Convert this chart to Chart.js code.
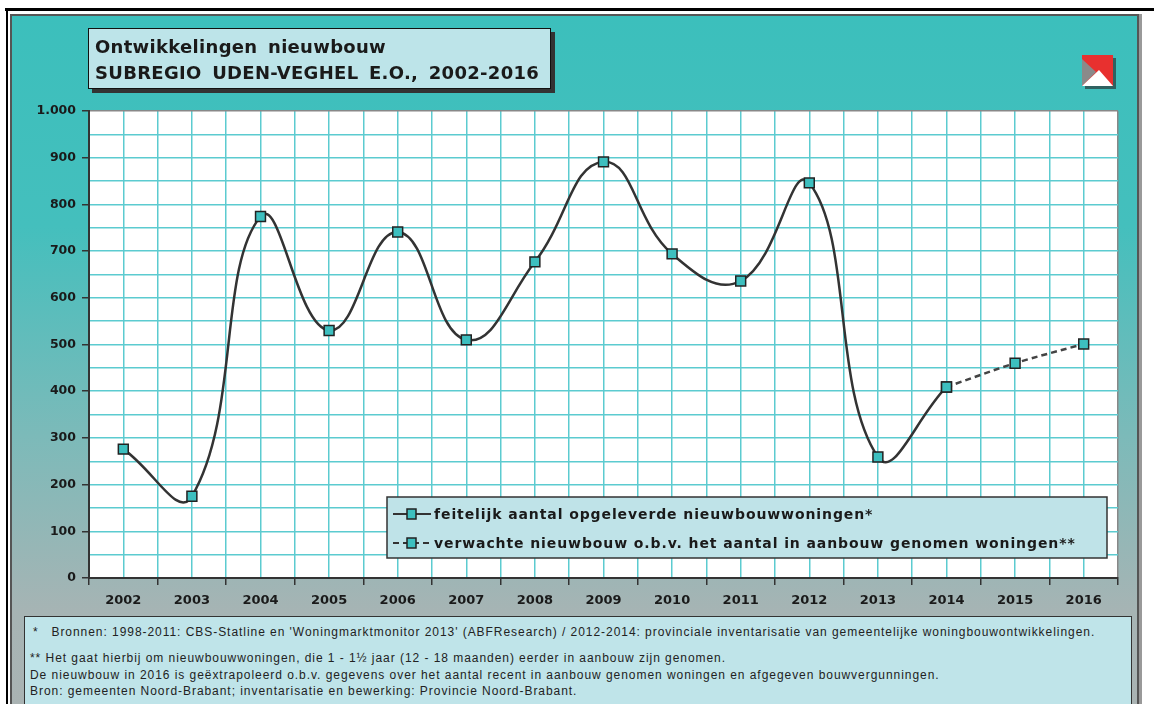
<!DOCTYPE html>
<html>
<head>
<meta charset="utf-8">
<script src="https://cdn.jsdelivr.net/npm/chart.js@4.4.1/dist/chart.umd.min.js"></script>
<style>
  html, body { margin: 0; padding: 0; background: #fff; }
  #wrap { position: relative; width: 1154px; height: 704px; overflow: hidden; }
  .topline { position: absolute; left: 5px; top: 8px; width: 1149px; height: 3px; background: #000; }
  .leftline { position: absolute; left: 6px; top: 8px; width: 2px; height: 700px; background: #000; }
  .panel {
    position: absolute; left: 10px; top: 14px; width: 1125px; height: 700px;
    border: 2px solid #555; box-shadow: 3px 0 0 #999;
    background: linear-gradient(to bottom, #3cbfbc 0%, #44bfbd 30%, #7cbab9 60%, #a6b4b4 85%, #aab3b3 100%);
  }
  #chart { position: absolute; left: 0; top: 0; }
  .title {
    position: absolute; left: 88px; top: 28px; width: 463px; height: 61px;
    background: #bde4e9; border: 1.5px solid #111; box-shadow: 4px 4px 0 #333;
    font: bold 18px "DejaVu Sans", sans-serif; color: #1a1a1a; box-sizing: border-box;
    padding: 5px 0 0 6px; line-height: 26px; word-spacing: 4px; letter-spacing: 0.3px;
  }
  .logo { position: absolute; left: 1082px; top: 55px; }
  .notes {
    position: absolute; left: 24px; top: 616px; width: 1108px; height: 100px;
    background: #bfe4e9; border: 1.5px solid #333; box-sizing: border-box;
    font: 12px "Liberation Sans", sans-serif; letter-spacing: 0.95px; color: #222;
  }
  .notes div { position: absolute; white-space: nowrap; }
</style>
</head>
<body>
<div id="wrap">
  <div class="topline"></div>
  <div class="leftline"></div>
  <div class="panel"></div>
  <canvas id="chart" width="1154" height="704"></canvas>
  <div class="title">Ontwikkelingen nieuwbouw<br>SUBREGIO UDEN-VEGHEL E.O., 2002-2016</div>
  <svg class="logo" width="36" height="36" viewBox="0 0 36 36">
    <rect x="3" y="3" width="31" height="31" fill="#2a3a3a" opacity="0.7"/>
    <rect x="0" y="0" width="31" height="31" fill="#e8302f"/>
    <polygon points="0,4 14,17 0,31" fill="#8a8a8a"/>
    <polygon points="0,31 17,15 31,31" fill="#fff"/>
  </svg>
  <div class="notes">
    <div style="left:8px; top:8px;">*&nbsp;&nbsp;&nbsp;Bronnen: 1998-2011: CBS-Statline en 'Woningmarktmonitor 2013' (ABFResearch) / 2012-2014: provinciale inventarisatie van gemeentelijke woningbouwontwikkelingen.</div>
    <div style="left:5px; top:34px;">** Het gaat hierbij om nieuwbouwwoningen, die 1 - 1½ jaar (12 - 18 maanden) eerder in aanbouw zijn genomen.</div>
    <div style="left:5px; top:51px;">De nieuwbouw in 2016 is geëxtrapoleerd o.b.v. gegevens over het aantal recent in aanbouw genomen woningen en afgegeven bouwvergunningen.</div>
    <div style="left:5px; top:67px;">Bron: gemeenten Noord-Brabant; inventarisatie en bewerking: Provincie Noord-Brabant.</div>
  </div>
</div>
<script>
// gegevens
const jarenFeitelijk = [2002, 2003, 2004, 2005, 2006, 2007, 2008, 2009, 2010, 2011, 2012, 2013, 2014];
const feitelijk = [276, 175, 774, 530, 741, 510, 677, 891, 694, 636, 846, 259, 409];
const jarenVerwacht = [2014, 2015, 2016];
const verwacht = [409, 460, 501];
const labelFeitelijk = 'feitelijk aantal opgeleverde nieuwbouwwoningen*';
const labelVerwacht = 'verwachte nieuwbouw o.b.v. het aantal in aanbouw genomen woningen**';

function punten(jaren, waarden) {
  return jaren.map((j, i) => ({ x: j, y: waarden[i] }));
}

function formatNL(v) {
  return v >= 1000 ? Math.floor(v / 1000) + '.' + String(v % 1000).padStart(3, '0') : String(v);
}

const teal = '#3dbfbf';
const gridTeal = '#5ccbd0';

// witte plotachtergrond
const plotAchtergrond = {
  id: 'plotAchtergrond',
  beforeDraw(chart) {
    const { ctx, chartArea: a } = chart;
    ctx.save();
    ctx.fillStyle = '#fff';
    ctx.fillRect(a.left, a.top, a.right - a.left, a.bottom - a.top);
    ctx.restore();
  }
};

// legenda in een kader binnen het plotgebied
const legendaKader = {
  id: 'legendaKader',
  afterDatasetsDraw(chart) {
    const ctx = chart.ctx;
    const x = 387, y = 497, w = 720, h = 61;
    ctx.save();
    ctx.fillStyle = '#bfe3e8';
    ctx.fillRect(x, y, w, h);
    ctx.strokeStyle = '#333';
    ctx.lineWidth = 1.5;
    ctx.strokeRect(x, y, w, h);
    const rijen = [514, 543];
    chart.data.datasets.forEach((ds, i) => {
      const ry = rijen[i];
      ctx.strokeStyle = '#333';
      ctx.lineWidth = 2;
      ctx.setLineDash(ds.borderDash || []);
      ctx.beginPath();
      ctx.moveTo(393, ry);
      ctx.lineTo(431, ry);
      ctx.stroke();
      ctx.setLineDash([]);
      ctx.fillStyle = teal;
      ctx.fillRect(407, ry - 5, 9, 10);
      ctx.lineWidth = 1.5;
      ctx.strokeStyle = '#222';
      ctx.strokeRect(407, ry - 5, 9, 10);
      ctx.fillStyle = '#1a1a1a';
      ctx.font = 'bold 14px "DejaVu Sans", sans-serif';
      ctx.letterSpacing = '0.9px';
      ctx.textBaseline = 'middle';
      ctx.fillText(ds.label, 434, ry + 1);
    });
    ctx.restore();
  }
};

new Chart(document.getElementById('chart'), {
  type: 'line',
  data: {
    datasets: [{
      label: labelFeitelijk,
      data: punten(jarenFeitelijk, feitelijk),
      borderColor: '#333',
      borderWidth: 2.5,
      tension: 0.45,
      pointStyle: 'rect',
      pointRadius: 7,
      pointBackgroundColor: teal,
      pointBorderColor: '#222',
      pointBorderWidth: 1.5,
      fill: false
    }, {
      label: labelVerwacht,
      data: punten(jarenVerwacht, verwacht),
      borderColor: '#444',
      borderWidth: 2.5,
      borderDash: [6, 4],
      tension: 0.3,
      pointStyle: 'rect',
      pointRadius: 7,
      pointBackgroundColor: teal,
      pointBorderColor: '#222',
      pointBorderWidth: 1.5,
      fill: false
    }]
  },
  options: {
    responsive: false,
    animation: false,
    layout: { padding: { top: 111, right: 36, bottom: 86, left: 0 } },
    plugins: {
      legend: { display: false },
      tooltip: { enabled: false }
    },
    scales: {
      x: {
        type: 'linear',
        min: 2001.5,
        max: 2016.5,
        afterFit(scale) { scale.height = 40; },
        border: { display: true, color: '#333', width: 2 },
        grid: {
          color: ctx => ctx.tick && ctx.tick.value === 2016.5 ? '#888' : gridTeal,
          lineWidth: 1.5,
          tickLength: 7,
          tickColor: ctx => Number.isInteger(ctx.tick.value) ? 'transparent' : '#333',
          tickWidth: 1.5
        },
        ticks: {
          stepSize: 0.5,
          autoSkip: false,
          maxRotation: 0,
          padding: 8,
          color: '#1a1a1a',
          font: { family: 'DejaVu Sans', weight: 'bold', size: 13 },
          callback: v => Number.isInteger(v) ? String(v) : ''
        }
      },
      y: {
        min: 0,
        max: 1000,
        afterFit(scale) { scale.width = 89; },
        border: { display: true, color: '#333', width: 2 },
        grid: {
          color: ctx => ctx.tick && ctx.tick.value === 1000 ? '#888' : gridTeal,
          lineWidth: 1.5,
          tickLength: 7,
          tickColor: ctx => ctx.tick.value % 100 === 0 ? '#333' : 'transparent',
          tickWidth: 1.5
        },
        ticks: {
          stepSize: 50,
          autoSkip: false,
          padding: 6,
          color: '#1a1a1a',
          font: { family: 'DejaVu Sans', weight: 'bold', size: 12.5 },
          callback: v => v % 100 === 0 ? formatNL(v) : ''
        }
      }
    }
  },
  plugins: [plotAchtergrond, legendaKader]
});
</script>
</body>
</html>
